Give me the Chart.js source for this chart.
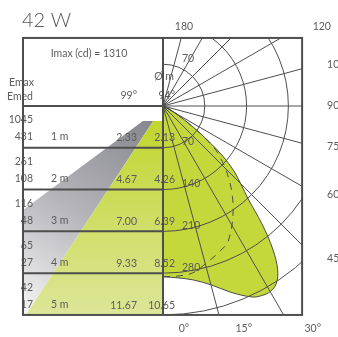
<!DOCTYPE html>
<html>
<head>
<meta charset="utf-8">
<script src="https://cdn.jsdelivr.net/npm/chart.js@4.4.0/dist/chart.umd.min.js"></script>
<style>
  html, body { margin: 0; padding: 0; background: #fff; }
  #wrap { width: 338px; height: 337px; }
</style>
</head>
<body>
<div id="wrap"><canvas id="chart" width="338" height="337"></canvas></div>
<script>
// values
const wattage = '42 W';
const imaxCd = 1310;
const distancesM = [1, 2, 3, 4, 5];
const eMaxLux = [1045, 261, 116, 65, 42];
const eMedLux = [431, 108, 48, 27, 17];
const beamAngles = [99, 94];
const diameterWide = ['2.33', '4.67', '7.00', '9.33', '11.67'];
const diameterNarrow = ['2.13', '4.26', '6.39', '8.52', '10.65'];

// polar diagram (cd/klm)
const ringValues = [70, 140, 210, 280, 350];
const ringLabels = ['70', '140', '210', '280'];
const spokeAngles = [0, 15, 30, 45, 60, 75, 90, 105, 120, 135, 150, 165, 180];
const labelAngles = [0, 15, 30, 45, 60, 75, 90, 105, 120, 180];
const labelTexts = ['0°', '15°', '30°', '45', '60', '75', '90', '105', '120', '180'];
const curveAngles = [0, 5, 10, 15, 20, 25, 27.5, 30, 32.5, 35, 37.5, 40, 42.5, 45, 47.5, 50, 52.5, 55, 60, 65, 70, 80, 90];
const planeC0 = [286, 289, 296, 310, 332, 353, 358, 359, 353, 335, 302, 258, 211, 184, 161, 131, 94, 62, 25, 10, 3, 0, 0];
const planeC90 = [286, 286, 284, 274, 264, 254, 243, 231, 218, 205, 191, 177, 162, 148, 132, 117, 90, 62, 25, 10, 3, 0, 0];

// layout
const PX_PER_UNIT = 0.597;
const ORIGIN = { x: 163, y: 106 };
const UNITS_PER_METRE = 70;
const FRAME = { left: -234.5, right: 233, top: 114, bottom: -350 };
const CONE_TOP = 25;
const coneOuter = Math.tan(53.4 * Math.PI / 180);
const coneInner = Math.tan(33.3 * Math.PI / 180);
const FONT = 'Lato, "Open Sans", sans-serif';
const TEXT = '#5c5c5c';
const LINE = '#4e4e4e';

function polar(angles, values) {
    return angles.map((a, i) => {
        const t = a * Math.PI / 180;
        return { x: values[i] * Math.sin(t), y: -values[i] * Math.cos(t) };
    });
}

function gradient(chart, x0, y0, x1, y1, stops) {
    const { ctx, chartArea, scales } = chart;
    if (!chartArea) return stops[0][1];
    const g = ctx.createLinearGradient(
        scales.x.getPixelForValue(x0), scales.y.getPixelForValue(y0),
        scales.x.getPixelForValue(x1), scales.y.getPixelForValue(y1));
    stops.forEach(([o, c]) => g.addColorStop(o, c));
    return g;
}

const bottom = FRAME.bottom;
const grayCone = [
    { x: -coneOuter * CONE_TOP, y: -CONE_TOP },
    { x: -coneInner * CONE_TOP, y: -CONE_TOP },
    { x: coneInner * bottom, y: bottom },
    { x: FRAME.left, y: bottom },
    { x: FRAME.left, y: FRAME.left / coneOuter }
];
const greenCone = [
    { x: -coneInner * CONE_TOP, y: -CONE_TOP },
    { x: 0, y: -CONE_TOP },
    { x: 0, y: bottom },
    { x: coneInner * bottom, y: bottom }
];

function txt(ctx, s, x, y, align, size, weight) {
    ctx.font = `${weight || 400} ${size}px ${FONT}`;
    ctx.textAlign = align;
    ctx.fillText(s, x, y);
}

const diagramPlugin = {
    id: 'diagram',
    afterDatasetsDraw(chart) {
        const { ctx, scales: { x, y } } = chart;
        const ox = x.getPixelForValue(0), oy = y.getPixelForValue(0);
        const L = x.getPixelForValue(FRAME.left), R = x.getPixelForValue(FRAME.right);
        const T = y.getPixelForValue(FRAME.top), B = y.getPixelForValue(FRAME.bottom);
        const rowY = d => y.getPixelForValue(-d * UNITS_PER_METRE);

        ctx.save();
        ctx.fillStyle = TEXT;
        ctx.textBaseline = 'middle';

        // title and header
        ctx.fillStyle = '#555';
        ctx.textBaseline = 'alphabetic';
        txt(ctx, wattage, L - 1, T - 10.5, 'left', 20, 300);
        ctx.textBaseline = 'middle';
        ctx.fillStyle = TEXT;
        txt(ctx, `Imax (cd) = ${imaxCd}`, (L + ox) / 2 - 4, T + 16, 'center', 10.5);
        txt(ctx, 'Emax', L + 11, oy - 23, 'right', 10.5);
        txt(ctx, 'Emed', L + 10, oy - 9, 'right', 10.5);
        txt(ctx, 'Ø m', ox + 1, oy - 29, 'center', 10.5);
        txt(ctx, `${beamAngles[0]}°`, ox - 26, oy - 10, 'right', 10.5);
        txt(ctx, `${beamAngles[1]}°`, ox + 12, oy - 10, 'right', 10.5);

        // rows
        distancesM.forEach((d, i) => {
            const top = rowY(d - 1);
            txt(ctx, String(eMaxLux[i]), L + 10, top + 14, 'right', 10.5);
            txt(ctx, String(eMedLux[i]), L + 10, top + 31, 'right', 10.5);
            txt(ctx, `${d} m`, L + 28, top + 31, 'left', 10.5);
            txt(ctx, diameterWide[i], ox - 26, top + 32, 'right', 10.5);
            txt(ctx, diameterNarrow[i], ox + 12, top + 32, 'right', 10.5);
        });

        // ring labels
        ringLabels.forEach((s, i) => {
            const v = ringValues[i];
            txt(ctx, s, ox + 19, y.getPixelForValue(-v) - 6, 'left', 10.5);
            const up = y.getPixelForValue(v) - 6;
            if (up > T + 8) txt(ctx, s, ox + 19, up, 'left', 10.5);
        });

        // angle labels
        const rightX = R + 14, bottomY = B + 14, topY = T - 11.5;
        labelAngles.forEach((a, i) => {
            const t = a * Math.PI / 180;
            const dx = Math.sin(t), dy = Math.cos(t);
            const tr = dx > 1e-9 ? (rightX - ox) / dx : Infinity;
            const tb = dy > 1e-9 ? (bottomY - oy) / dy : Infinity;
            const tt = dy < -1e-9 ? (topY - oy) / dy : Infinity;
            const tm = Math.min(tr, tb, tt);
            if (tm === tr) {
                txt(ctx, labelTexts[i], rightX + 11, oy + dy * tr, 'left', 10.5);
            } else {
                const hy = tm === tb ? bottomY : topY;
                txt(ctx, labelTexts[i], ox + dx * tm + 21, hy, 'center', 10.5);
            }
        });
        ctx.restore();

        // polar grid
        ctx.save();
        ctx.beginPath();
        ctx.rect(ox, T, R - ox, B - T);
        ctx.clip();
        ctx.strokeStyle = LINE;
        ctx.lineWidth = 1;
        ringValues.forEach(v => {
            const r = x.getPixelForValue(v) - ox;
            ctx.beginPath();
            ctx.arc(ox, oy, r, -Math.PI / 2, Math.PI / 2);
            ctx.stroke();
        });
        spokeAngles.forEach(a => {
            const t = a * Math.PI / 180;
            ctx.beginPath();
            ctx.moveTo(ox, oy);
            ctx.lineTo(ox + 800 * Math.sin(t), oy + 800 * Math.cos(t));
            ctx.stroke();
        });
        ctx.restore();

        // frame
        ctx.save();
        ctx.strokeStyle = LINE;
        ctx.lineWidth = 2;
        ctx.strokeRect(L, T, R - L, B - T);
        ctx.beginPath();
        ctx.moveTo(ox, T); ctx.lineTo(ox, B);
        ctx.moveTo(L, oy); ctx.lineTo(ox, oy);
        distancesM.slice(0, -1).forEach(d => {
            ctx.moveTo(L, rowY(d)); ctx.lineTo(ox, rowY(d));
        });
        ctx.stroke();
        ctx.restore();
    }
};

const base = { showLine: true, pointRadius: 0, pointHoverRadius: 0, tension: 0 };

new Chart(document.getElementById('chart'), {
    type: 'scatter',
    data: {
        datasets: [
            {
                ...base, label: 'C90', order: 0,
                data: polar(curveAngles, planeC90),
                borderColor: '#4a4a4a', borderWidth: 1, borderDash: [7, 6],
                fill: false, tension: 0.35
            },
            {
                ...base, label: 'C0', order: 1,
                data: polar(curveAngles, planeC0),
                borderColor: '#4a4a4a', borderWidth: 1,
                backgroundColor: '#c4d83b', fill: 'shape', tension: 0.35
            },
            {
                ...base, label: 'inner cone', order: 2,
                data: greenCone,
                borderColor: 'rgba(0,0,0,0)', borderWidth: 0, fill: 'shape',
                backgroundColor: c => gradient(c.chart, 0, -CONE_TOP, 0, bottom,
                    [[0, '#c0d62e'], [1, '#dce699']])
            },
            {
                ...base, label: 'outer cone', order: 3,
                data: grayCone,
                borderColor: 'rgba(0,0,0,0)', borderWidth: 0, fill: 'shape',
                backgroundColor: c => gradient(c.chart, -coneInner * CONE_TOP, -CONE_TOP, FRAME.left, bottom,
                    [[0, '#86868e'], [0.5, '#b4b4b9'], [1, '#f6f6f6']])
            }
        ]
    },
    options: {
        responsive: false,
        devicePixelRatio: 1,
        animation: false,
        layout: { padding: 0 },
        plugins: { legend: { display: false }, tooltip: { enabled: false } },
        scales: {
            x: { type: 'linear', display: false, min: -ORIGIN.x / PX_PER_UNIT, max: (338 - ORIGIN.x) / PX_PER_UNIT },
            y: { type: 'linear', display: false, min: -(337 - ORIGIN.y) / PX_PER_UNIT, max: ORIGIN.y / PX_PER_UNIT }
        }
    },
    plugins: [diagramPlugin]
});
</script>
</body>
</html>
